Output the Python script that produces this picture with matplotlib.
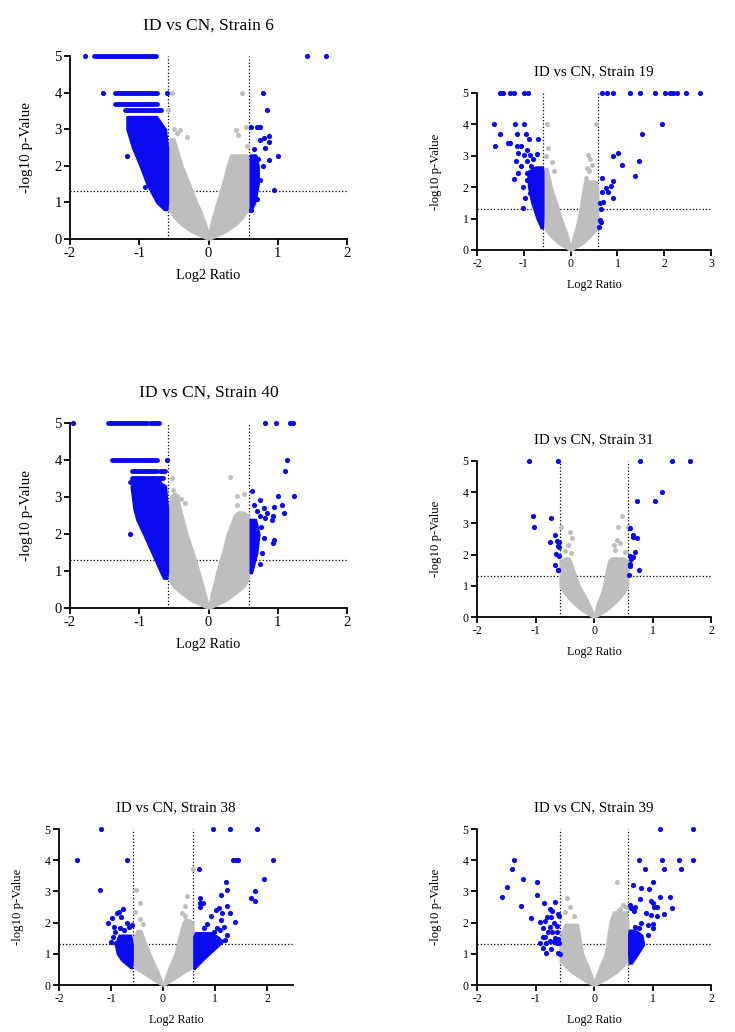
import matplotlib
matplotlib.use("Agg")
import matplotlib.pyplot as plt

plt.rcParams['font.family'] = ['Liberation Serif', 'DejaVu Serif']
plt.rcParams['axes.unicode_minus'] = False

BLUE = '#0A0AF0'
GREY = '#BEBEBE'
FC = 0.585   # log2(1.5)
PV = 1.301   # -log10(0.05)

# ---- Strain 6 ----
s6_grey_left = ([0, 0.2, 0.4, 0.6, 0.8, 1.0, 1.5, 2.0, 2.5, 2.75],
                [-0.02, -0.25, -0.4, -0.5, -0.57, -0.58, -0.58, -0.58, -0.58, -0.55],
                [0.0, -0.01, -0.04, -0.08, -0.12, -0.17, -0.27, -0.38, -0.46, -0.5])
s6_grey_right = ([0, 0.2, 0.4, 0.6, 0.8, 1.0, 1.5, 2.0, 2.3],
                 [0.02, 0.25, 0.4, 0.5, 0.57, 0.58, 0.58, 0.58, 0.56],
                 [0, 0.01, 0.03, 0.06, 0.09, 0.12, 0.2, 0.27, 0.32])
s6_blue_left = ([0.8, 1.0, 1.5, 2.0, 2.5, 3.0, 3.35],
                [-0.64, -0.75, -0.89, -0.99, -1.1, -1.18, -1.18],
                [-0.6, -0.59, -0.59, -0.59, -0.59, -0.62, -0.75])
s6_blue_right = ([0.8, 1.0, 1.5, 2.0, 2.3],
                 [0.62, 0.67, 0.72, 0.72, 0.68],
                 [0.6, 0.6, 0.6, 0.6, 0.6])
s6_rows = [(5, -1.66, -0.76), (4, -1.35, -0.75), (3.7, -1.35, -0.75), (3.52, -1.2, -0.68)]
s6_blue = [(-1.78, 5), (-1.53, 4), (-0.6, 4), (-1.17, 2.27), (-0.92, 1.41), (1.42, 5), (1.69, 5),
           (0.78, 4), (0.84, 3.53), (0.61, 3.07), (0.70, 3.05), (0.75, 3.05), (0.88, 2.82),
           (0.80, 2.75), (0.75, 2.7), (0.87, 2.66), (0.65, 2.45), (0.82, 2.48), (1.01, 2.28),
           (0.71, 2.18), (0.88, 2.16), (0.79, 2.0), (0.67, 2.25), (0.95, 1.33), (0.74, 1.6),
           (0.7, 1.1), (0.62, 0.78)]
s6_grey = [(-0.53, 4.0), (-0.58, 3.53), (-0.41, 2.98), (-0.31, 2.8), (0.48, 4.0), (0.54, 3.05),
           (0.39, 2.98), (0.43, 2.85), (0.55, 2.53), (-0.5, 3.0), (-0.45, 2.9)]

# ---- Strain 19 ----
s19_grey_left = ([0, 0.2, 0.4, 0.6, 0.8, 1.0, 1.5, 2.0, 2.4, 2.6],
                 [-0.02, -0.25, -0.4, -0.52, -0.58, -0.58, -0.58, -0.58, -0.58, -0.55],
                 [0, -0.02, -0.06, -0.1, -0.15, -0.2, -0.3, -0.41, -0.47, -0.5])
s19_grey_right = ([0, 0.2, 0.4, 0.6, 0.8, 1.0, 1.5, 2.0, 2.2],
                  [0.02, 0.25, 0.4, 0.52, 0.58, 0.58, 0.58, 0.58, 0.55],
                  [0, 0.02, 0.05, 0.09, 0.13, 0.16, 0.22, 0.27, 0.3])
s19_blue_left = ([0.7, 1.0, 1.5, 2.0, 2.5, 2.65],
                 [-0.63, -0.72, -0.83, -0.9, -0.92, -0.75],
                 [-0.6, -0.59, -0.59, -0.59, -0.59, -0.6])
s19_blue = [(-1.51, 5), (-1.44, 5), (-1.30, 5), (-1.21, 5), (-0.99, 5), (-0.91, 5), (0.67, 5),
            (0.77, 5), (0.91, 5), (1.27, 5), (1.48, 5), (1.80, 5), (2.02, 5), (2.12, 5), (2.19, 5),
            (2.27, 5), (2.47, 5), (2.76, 5), (-1.64, 4), (-1.19, 4), (-1.0, 4), (1.96, 4),
            (-1.5, 3.7), (-1.14, 3.7), (-0.96, 3.7), (-1.61, 3.3), (-1.34, 3.4), (-1.30, 3.4),
            (-0.69, 3.53), (-0.89, 3.53), (1.52, 3.7), (1.02, 3.1), (0.90, 3.0), (1.09, 2.71),
            (1.47, 2.84), (1.37, 2.36), (0.91, 2.21), (0.86, 2.05), (0.75, 1.99), (0.67, 2.29),
            (0.79, 1.86), (0.68, 1.86), (0.90, 1.65), (0.70, 1.54), (0.62, 1.49), (0.66, 1.3),
            (0.62, 0.96), (0.65, 0.9), (0.61, 0.74), (-1.21, 2.26), (-1.14, 3.3), (-1.05, 3.3),
            (-0.94, 3.19), (-1.12, 3.09), (-1.0, 3.03), (-0.87, 3.03), (-1.16, 2.84), (-0.94, 2.82),
            (-1.05, 2.68), (-0.84, 2.66), (-1.12, 2.45), (-0.94, 2.45), (-0.8, 2.34), (-0.94, 2.23),
            (-1.02, 2.02), (-0.87, 1.81), (-0.98, 1.65), (-1.02, 1.33), (-0.72, 3.05), (-0.8, 2.9)]
s19_grey = [(-0.5, 4.0), (0.55, 4.0), (0.38, 3.03), (0.42, 2.9), (0.35, 2.6), (0.4, 2.5),
            (0.32, 2.3), (0.45, 2.7), (-0.48, 3.24), (-0.52, 3.0), (-0.4, 2.8), (-0.35, 2.5)]

# ---- Strain 40 ----
s40_grey_left = ([0, 0.2, 0.4, 0.6, 0.8, 1.0, 1.5, 2.0, 2.5, 3.0, 3.1],
                 [-0.02, -0.25, -0.4, -0.52, -0.58, -0.58, -0.58, -0.58, -0.58, -0.55, -0.5],
                 [0, -0.02, -0.05, -0.08, -0.11, -0.14, -0.22, -0.31, -0.38, -0.45, -0.48])
s40_grey_right = ([0, 0.2, 0.4, 0.6, 0.8, 1.0, 1.5, 2.0, 2.5, 2.6],
                  [0.02, 0.25, 0.4, 0.52, 0.58, 0.58, 0.58, 0.58, 0.58, 0.5],
                  [0, 0.02, 0.04, 0.07, 0.1, 0.12, 0.2, 0.27, 0.37, 0.42])
s40_blue_left = ([0.8, 1.0, 1.5, 2.0, 2.4, 2.7, 3.3, 3.4],
                 [-0.65, -0.7, -0.82, -0.94, -1.04, -1.08, -1.12, -1.1],
                 [-0.6, -0.59, -0.59, -0.59, -0.59, -0.59, -0.62, -0.7])
s40_blue_right = ([0.95, 1.0, 1.5, 2.0, 2.4],
                  [0.62, 0.63, 0.7, 0.73, 0.68],
                  [0.6, 0.6, 0.6, 0.6, 0.6])
s40_rows = [(5, -1.45, -0.89), (5, -0.84, -0.72), (4, -1.40, -0.75), (3.7, -1.11, -0.75),
            (3.7, -0.7, -0.63), (3.52, -1.11, -0.65), (3.4, -1.13, -0.72)]
s40_blue = [(-1.95, 5), (-0.6, 4), (-1.13, 2.0), (0.82, 5), (0.98, 5), (1.17, 5), (1.22, 5),
            (1.14, 4), (1.10, 3.69), (1.0, 3.04), (1.24, 3.04), (0.63, 3.15), (0.94, 2.72),
            (1.06, 2.79), (1.09, 2.57), (0.93, 2.48), (0.92, 2.39), (0.80, 2.70), (0.85, 2.57),
            (0.75, 2.48), (0.70, 2.61), (0.75, 2.93), (0.65, 2.79), (0.82, 2.43), (0.94, 1.83),
            (0.93, 1.76), (0.77, 1.5), (0.8, 1.9), (0.76, 2.2), (0.74, 1.2)]
s40_grey = [(0.31, 3.54), (0.41, 3.04), (0.51, 3.08), (0.41, 2.79), (0.46, 2.55), (-0.53, 3.51),
            (-0.51, 3.2), (-0.46, 3.02), (-0.34, 2.84), (-0.4, 2.95)]

# ---- Strain 31 ----
s31_grey_left = ([0, 0.2, 0.4, 0.6, 0.8, 1.0, 1.4, 1.8, 1.9],
                 [-0.02, -0.2, -0.33, -0.44, -0.52, -0.58, -0.58, -0.58, -0.5],
                 [0, -0.03, -0.08, -0.13, -0.19, -0.25, -0.33, -0.4, -0.43])
s31_grey_right = ([0, 0.2, 0.4, 0.6, 0.8, 1.0, 1.4, 1.8, 1.9],
                  [0.02, 0.2, 0.33, 0.44, 0.52, 0.58, 0.58, 0.58, 0.5],
                  [0, 0.02, 0.05, 0.09, 0.13, 0.16, 0.2, 0.25, 0.3])
s31_blue = [(-1.11, 5), (-0.62, 5), (0.78, 5), (1.33, 5), (1.64, 5), (1.16, 4.01), (0.74, 3.72),
            (1.04, 3.72), (-1.05, 3.23), (-1.03, 2.89), (-0.74, 3.16), (-0.67, 2.64), (-0.76, 2.40),
            (-0.64, 2.44), (-0.60, 2.41), (-0.61, 2.27), (-0.60, 2.25), (-0.65, 2.01), (-0.60, 1.97),
            (-0.66, 1.66), (-0.62, 1.52), (-0.61, 1.50), (0.62, 2.86), (0.67, 2.62), (0.66, 2.56),
            (0.74, 2.54), (0.70, 2.09), (0.61, 1.95), (0.63, 1.87), (0.67, 1.93), (0.62, 1.71),
            (0.61, 1.63), (0.77, 1.50), (0.60, 1.36)]
s31_grey = [(-0.56, 2.89), (-0.41, 2.73), (-0.37, 2.52), (-0.45, 2.3), (-0.5, 2.1), (-0.4, 2.05),
            (0.48, 3.23), (0.41, 2.89), (0.40, 2.46), (0.44, 2.36), (0.36, 2.14), (0.53, 2.09),
            (0.58, 2.87), (0.35, 2.3)]

# ---- Strain 38 ----
s38_grey_left = ([0, 0.2, 0.4, 0.55, 0.8, 1.0, 1.5, 1.75],
                 [-0.02, -0.22, -0.4, -0.55, -0.58, -0.58, -0.58, -0.5],
                 [0, -0.04, -0.09, -0.13, -0.2, -0.25, -0.37, -0.42])
s38_grey_right = ([0, 0.2, 0.4, 0.55, 0.8, 1.0, 1.5, 2.0, 2.1],
                  [0.02, 0.22, 0.4, 0.55, 0.58, 0.58, 0.58, 0.58, 0.5],
                  [0, 0.04, 0.08, 0.11, 0.18, 0.23, 0.3, 0.38, 0.42])
s38_blue_left = ([0.55, 0.8, 1.0, 1.3, 1.6],
                 [-0.62, -0.8, -0.88, -0.92, -0.85],
                 [-0.6, -0.59, -0.59, -0.59, -0.62])
s38_blue_right = ([0.52, 0.8, 1.0, 1.2, 1.4, 1.55, 1.68],
                  [0.6, 0.76, 0.89, 1.02, 1.15, 1.05, 0.92],
                  [0.59, 0.59, 0.59, 0.59, 0.59, 0.59, 0.62])
s38_blue = [(-1.19, 5.0), (-1.66, 4.0), (-0.70, 4.0), (-1.21, 3.04), (0.96, 5), (1.28, 5), (1.81, 5),
            (1.35, 4), (1.40, 4), (1.45, 4), (2.11, 4), (0.69, 3.71), (1.21, 3.31), (1.94, 3.40),
            (1.24, 3.04), (1.77, 3.01), (1.69, 2.78), (1.77, 2.70), (1.11, 2.88), (0.71, 2.80),
            (0.72, 2.62), (0.77, 2.64), (0.72, 2.51), (1.23, 2.53), (1.08, 2.46), (1.14, 2.32),
            (1.29, 2.32), (1.38, 2.03), (1.01, 2.40), (0.93, 2.21), (0.85, 1.96), (1.11, 2.08),
            (1.17, 1.87), (1.24, 1.60), (1.03, 1.82), (0.79, 1.82), (-1.06, 1.98), (-0.99, 2.16),
            (-0.88, 2.32), (-0.85, 2.35), (-0.77, 2.43), (-0.81, 2.19), (-0.70, 1.98), (-0.65, 1.87),
            (-0.60, 1.92), (-0.95, 1.87), (-0.92, 1.71), (-0.83, 1.82), (-0.75, 1.76), (-0.97, 1.55),
            (-1.0, 1.39), (-0.90, 1.34), (1.2, 1.45), (1.1, 1.75), (0.98, 1.7)]
s38_grey = [(-0.52, 3.04), (-0.44, 2.64), (-0.54, 2.35), (-0.45, 2.1), (-0.38, 1.95), (0.46, 2.85),
            (0.42, 2.53), (0.58, 3.71), (0.37, 2.32), (0.42, 2.2)]

# ---- Strain 39 ----
s39_grey_left = ([0, 0.2, 0.4, 0.6, 0.8, 1.0, 1.5, 1.95],
                 [-0.02, -0.22, -0.38, -0.5, -0.58, -0.58, -0.58, -0.5],
                 [0, -0.02, -0.06, -0.1, -0.15, -0.19, -0.24, -0.28])
s39_grey_right = ([0, 0.2, 0.4, 0.6, 0.8, 1.0, 1.5, 2.0, 2.35],
                  [0.02, 0.22, 0.38, 0.5, 0.58, 0.58, 0.58, 0.58, 0.55],
                  [0, 0.02, 0.06, 0.1, 0.15, 0.19, 0.23, 0.27, 0.33])
s39_blue_right = ([0.7, 1.0, 1.3, 1.6, 1.76],
                  [0.64, 0.75, 0.85, 0.82, 0.7],
                  [0.6, 0.59, 0.59, 0.59, 0.6])
s39_blue = [(-1.37, 4.0), (-1.41, 3.71), (-1.21, 3.40), (-1.49, 3.15), (-1.58, 2.83), (-1.24, 2.53),
            (-0.98, 3.31), (-0.97, 2.88), (-1.07, 2.16), (-0.85, 2.62), (-0.67, 2.65), (-0.76, 2.44),
            (-0.71, 2.38), (-0.62, 2.26), (-0.60, 2.21), (-0.81, 2.19), (-0.84, 2.06), (-0.93, 2.03),
            (-0.73, 2.17), (-0.68, 1.98), (-0.76, 1.87), (-0.87, 1.84), (-0.64, 1.89), (-0.78, 1.69),
            (-0.71, 1.71), (-0.64, 1.71), (-0.87, 1.55), (-0.83, 1.55), (-0.67, 1.50), (-0.61, 1.46),
            (-0.76, 1.42), (-0.82, 1.36), (-0.69, 1.39), (-0.64, 1.36), (-0.60, 1.34), (-0.92, 1.34),
            (-0.73, 1.14), (-0.88, 1.18), (-0.82, 1.01), (-0.61, 1.01), (-0.58, 0.98),
            (1.13, 5.0), (1.70, 5), (0.77, 4), (1.17, 4), (1.46, 4), (1.70, 4), (0.87, 3.71),
            (1.20, 3.71), (1.48, 3.71), (1.0, 3.31), (0.66, 3.21), (0.94, 3.07), (0.81, 3.10),
            (1.13, 2.83), (1.30, 2.83), (0.78, 2.76), (0.98, 2.70), (1.01, 2.64), (1.33, 2.46),
            (1.08, 2.51), (1.02, 2.51), (1.07, 2.21), (0.98, 2.24), (1.20, 2.28), (0.89, 2.32),
            (0.61, 2.56), (0.64, 2.46), (0.70, 2.51), (0.68, 2.37), (0.81, 1.98), (0.93, 1.92),
            (1.0, 1.96), (0.77, 1.82), (0.92, 1.60), (1.01, 1.84), (0.70, 1.87)]
s39_grey = [(0.39, 3.31), (0.5, 2.56), (0.45, 2.45), (-0.47, 2.78), (-0.41, 2.51), (-0.5, 2.35),
            (-0.35, 2.2), (0.55, 2.5), (0.42, 2.4)]

W, H = 735, 1032
fig = plt.figure(figsize=(W / 100, H / 100), dpi=100)


def cloud(ax, env, color):
    y, xo, xi = env
    ax.fill_betweenx(y, xo, xi, facecolor=color, edgecolor=color, lw=1.5, zorder=3, clip_on=False)


def panel(box, title, xlim, xticks, big, greys, blues, rows, bpts, gpts):
    x0, y0, x1, y1 = box
    ax = fig.add_axes([x0 / W, 1 - y1 / H, (x1 - x0) / W, (y1 - y0) / H])
    if big:
        fs_t, fs_k, fs_x, fs_y, tpad = 12.6, 10.5, 10.3, 11, 19
    else:
        fs_t, fs_k, fs_x, fs_y, tpad = 10.8, 8.5, 8.7, 9.2, 13
    ax.axvline(-FC, color='k', ls=':', lw=0.9, zorder=1)
    ax.axvline(FC, color='k', ls=':', lw=0.9, zorder=1)
    ax.axhline(PV, color='k', ls=':', lw=0.9, zorder=1)
    for env in greys:
        cloud(ax, env, GREY)
    if gpts:
        gx, gy = zip(*gpts)
        ax.scatter(gx, gy, s=13, color=GREY, lw=0, zorder=3, clip_on=False)
    for env in blues:
        cloud(ax, env, BLUE)
    for yv, xa, xb in rows:
        ax.plot([xa, xb], [yv, yv], color=BLUE, lw=3.5, solid_capstyle='round', zorder=4,
                clip_on=False)
    bx, by = zip(*bpts)
    ax.scatter(bx, by, s=14, color=BLUE, lw=0, zorder=4, clip_on=False)
    ax.set_xlim(*xlim)
    ax.set_ylim(0, 5)
    ax.set_xticks(xticks)
    ax.set_yticks(range(6))
    ax.spines['top'].set_visible(False)
    ax.spines['right'].set_visible(False)
    for s in ('left', 'bottom'):
        ax.spines[s].set_linewidth(1.3)
    ax.tick_params(length=4, width=1.3, labelsize=fs_k, pad=2)
    ax.set_title(title, fontsize=fs_t, pad=tpad)
    ax.set_xlabel('Log2 Ratio', fontsize=fs_x, labelpad=6)
    ax.set_ylabel('-log10 p-Value', fontsize=fs_y, labelpad=15)
    return ax


panel((70, 56, 347, 239), 'ID vs CN, Strain 6', (-2, 2), [-2, -1, 0, 1, 2], True,
      [s6_grey_left, s6_grey_right], [s6_blue_left, s6_blue_right], s6_rows, s6_blue, s6_grey)
panel((477, 93, 711, 250), 'ID vs CN, Strain 19', (-2, 3), [-2, -1, 0, 1, 2, 3], False,
      [s19_grey_left, s19_grey_right], [s19_blue_left], [], s19_blue, s19_grey)
panel((70, 423, 347, 608), 'ID vs CN, Strain 40', (-2, 2), [-2, -1, 0, 1, 2], True,
      [s40_grey_left, s40_grey_right], [s40_blue_left, s40_blue_right], s40_rows, s40_blue, s40_grey)
panel((477, 461, 711, 617), 'ID vs CN, Strain 31', (-2, 2), [-2, -1, 0, 1, 2], False,
      [s31_grey_left, s31_grey_right], [], [], s31_blue, s31_grey)
panel((59, 829, 293, 985), 'ID vs CN, Strain 38', (-2, 2.5), [-2, -1, 0, 1, 2], False,
      [s38_grey_left, s38_grey_right], [s38_blue_left, s38_blue_right], [], s38_blue, s38_grey)
panel((477, 829, 711, 985), 'ID vs CN, Strain 39', (-2, 2), [-2, -1, 0, 1, 2], False,
      [s39_grey_left, s39_grey_right], [s39_blue_right], [], s39_blue, s39_grey)

fig.savefig('out.png', dpi=100)
